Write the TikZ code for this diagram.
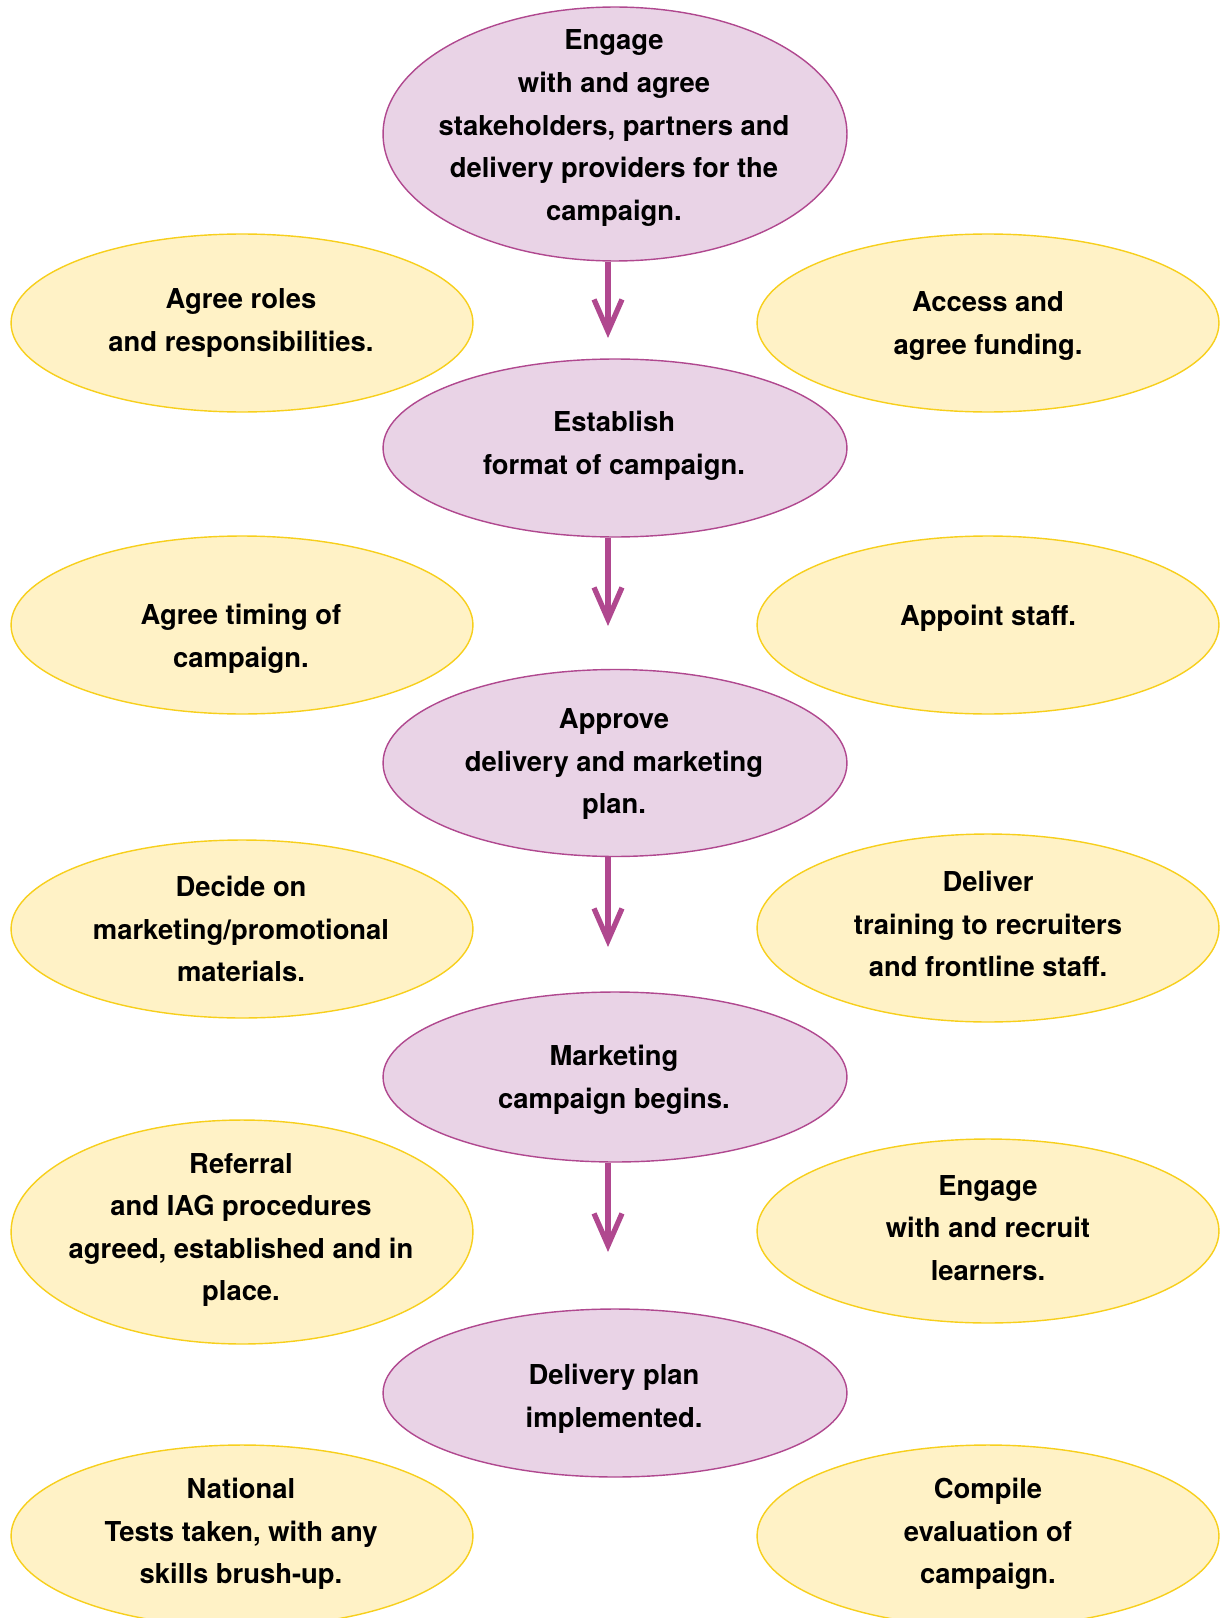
\documentclass[tikz,border=0pt]{standalone}
\usepackage{fontspec}
\setmainfont{TeX Gyre Heros}
\usetikzlibrary{shapes.geometric,arrows.meta,positioning}
\definecolor{plum}{HTML}{E9D3E6}
\definecolor{plumline}{HTML}{B0488F}
\definecolor{cream}{HTML}{FFF2C6}
\definecolor{gold}{HTML}{F7CF1C}

\begin{document}
\begin{tikzpicture}[x=0.02cm, y=-0.02cm]
        \tikzstyle{stage}=[ellipse, draw=plumline, fill=plum, line width=0.8pt, inner sep=0pt, minimum width=9.28cm];
        \tikzstyle{task}=[ellipse, draw=gold, fill=cream, line width=0.8pt, inner sep=0pt, minimum width=9.24cm];
        \tikzstyle{txt}=[align=center, font=\bfseries\fontsize{15.6}{24.2}\selectfont];
        \tikzstyle{flow}=[-{Straight Barb[length=0.64cm, width=0.56cm]}, line width=3pt, plumline];

        \useasboundingbox (0,0) rectangle (1226,1618);

        % main stages
        \node[stage, minimum height=5.08cm] (s1) at (615, 134) {};
        \node[stage, minimum height=3.56cm] (s2) at (615, 448) {};
        \node[stage, minimum height=3.74cm] (s3) at (615, 763) {};
        \node[stage, minimum height=3.4cm] (s4) at (615, 1077) {};
        \node[stage, minimum height=3.36cm] (s5) at (615, 1393) {};

        % side tasks
        \node[task, minimum height=3.56cm] (l1) at (242, 323) {};
        \node[task, minimum height=3.56cm] (r1) at (988, 323) {};
        \node[task, minimum height=3.56cm] (l2) at (242, 625) {};
        \node[task, minimum height=3.56cm] (r2) at (988, 625) {};
        \node[task, minimum height=3.56cm] (l3) at (242, 929) {};
        \node[task, minimum height=3.76cm] (r3) at (988, 928) {};
        \node[task, minimum height=4.48cm] (l4) at (242, 1232) {};
        \node[task, minimum height=3.68cm] (r4) at (988, 1231) {};
        \node[task, minimum height=3.64cm] (l5) at (242, 1536) {};
        \node[task, minimum height=3.64cm] (r5) at (988, 1536) {};

        % texts
        \node[txt] (t1) at (614, 128) {Engage\\with and agree\\stakeholders, partners and\\delivery providers for the\\campaign.};
        \node[txt] (t2) at (614, 446) {Establish\\format of campaign.};
        \node[txt] (t3) at (614, 764) {Approve\\delivery and marketing\\plan.};
        \node[txt] (t4) at (614, 1080) {Marketing\\campaign begins.};
        \node[txt] (t5) at (614, 1399) {Delivery plan\\implemented.};

        \node[txt] (tl1) at (241, 323) {Agree roles\\and responsibilities.};
        \node[txt] (tr1) at (988, 326) {Access and\\agree funding.};
        \node[txt] (tl2) at (241, 639) {Agree timing of\\campaign.};
        \node[txt] (tr2) at (988, 618) {Appoint staff.};
        \node[txt] (tl3) at (241, 929) {Decide on\\marketing/promotional\\materials.};
        \node[txt] (tr3) at (988, 924) {Deliver\\training to recruiters\\and frontline staff.};
        \node[txt] (tl4) at (241, 1230) {Referral\\and IAG procedures\\agreed, established and in\\place.};
        \node[txt] (tr4) at (988, 1228) {Engage\\with and recruit\\learners.};
        \node[txt] (tl5) at (241, 1534) {National\\Tests taken, with any\\skills brush-up.};
        \node[txt] (tr5) at (988, 1534) {Compile\\evaluation of\\campaign.};

        % arrows
        \coordinate (e1) at (608, 338);
        \coordinate (e2) at (608, 626);
        \coordinate (e3) at (608, 947);
        \coordinate (e4) at (608, 1252);
        \draw[flow] (s1.south -| e1) -- (e1);
        \draw[flow] (s2.south -| e2) -- (e2);
        \draw[flow] (s3.south -| e3) -- (e3);
        \draw[flow] (s4.south -| e4) -- (e4);
\end{tikzpicture}
\end{document}
